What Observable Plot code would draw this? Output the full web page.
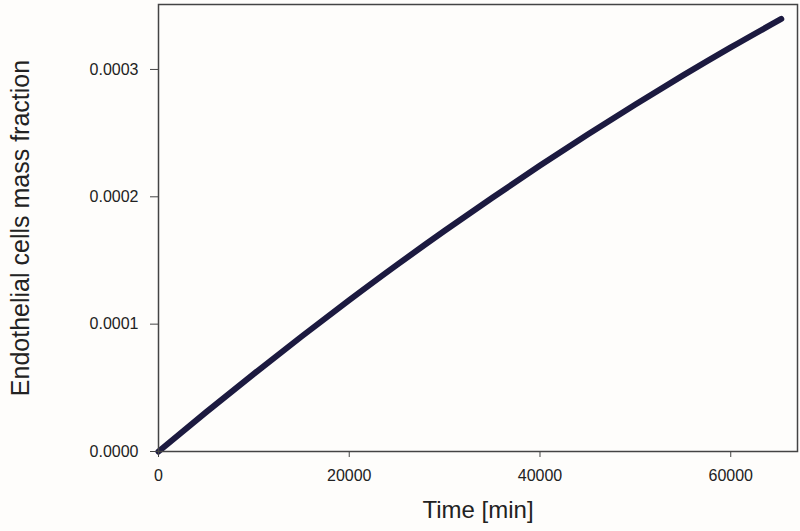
<!DOCTYPE html>
<html>
<head>
<meta charset="utf-8">
<script src="https://cdn.jsdelivr.net/npm/d3@7"></script>
<script src="https://cdn.jsdelivr.net/npm/@observablehq/plot@0.6"></script>
<style>
  html, body { margin: 0; padding: 0; background: #fefdfb; }
  #chart svg { display: block; }
</style>
</head>
<body>
<div id="chart"></div>
<script>
// Time [min]
const time = [0, 5000, 10000, 15000, 20000, 25000, 30000, 35000, 40000, 45000, 50000, 55000, 60000, 65300];
// Endothelial cells mass fraction
const massFraction = [0, 0.0000309, 0.0000610, 0.0000903, 0.0001188, 0.0001465, 0.0001733, 0.0001993, 0.0002245, 0.0002489, 0.0002725, 0.0002953, 0.0003173, 0.0003397];
const xTicks = [0, 20000, 40000, 60000];
const yTicks = [0, 0.0001, 0.0002, 0.0003];
const xLabel = "Time [min]";
const yLabel = "Endothelial cells mass fraction";

const data = time.map((t, i) => ({t, v: massFraction[i]}));

const chart = Plot.plot({
  width: 800,
  height: 531,
  marginLeft: 158,
  marginRight: 3,
  marginTop: 4,
  marginBottom: 80,
  style: {background: "#fefdfb", fontFamily: "'Liberation Sans', Arial, sans-serif", fontSize: "16px", color: "#222"},
  x: {domain: [0, 67000]},
  y: {domain: [0, 0.000351]},
  marks: [
    Plot.line(data, {x: "t", y: "v", stroke: "#1c1a40", strokeWidth: 6, curve: "monotone-x", strokeLinecap: "round"}),
    Plot.frame({stroke: "#444", strokeWidth: 1.5}),
    Plot.axisX({ticks: xTicks, tickFormat: d3.format("d"), tickSize: 6, tickPadding: 12, fontSize: 16, label: null, stroke: "#444"}),
    Plot.axisY({ticks: yTicks, tickFormat: d3.format(".4f"), tickSize: 8, tickPadding: 12, fontSize: 16, label: null, stroke: "#444"}),
    Plot.text([xLabel], {frameAnchor: "bottom", dy: 66, text: d => d, fontSize: 24, fill: "#222"}),
    Plot.text([yLabel], {frameAnchor: "left", dx: -138, rotate: -90, textAnchor: "middle", text: d => d, fontSize: 25, fill: "#222"})
  ]
});
document.getElementById("chart").appendChild(chart);
</script>
</body>
</html>
